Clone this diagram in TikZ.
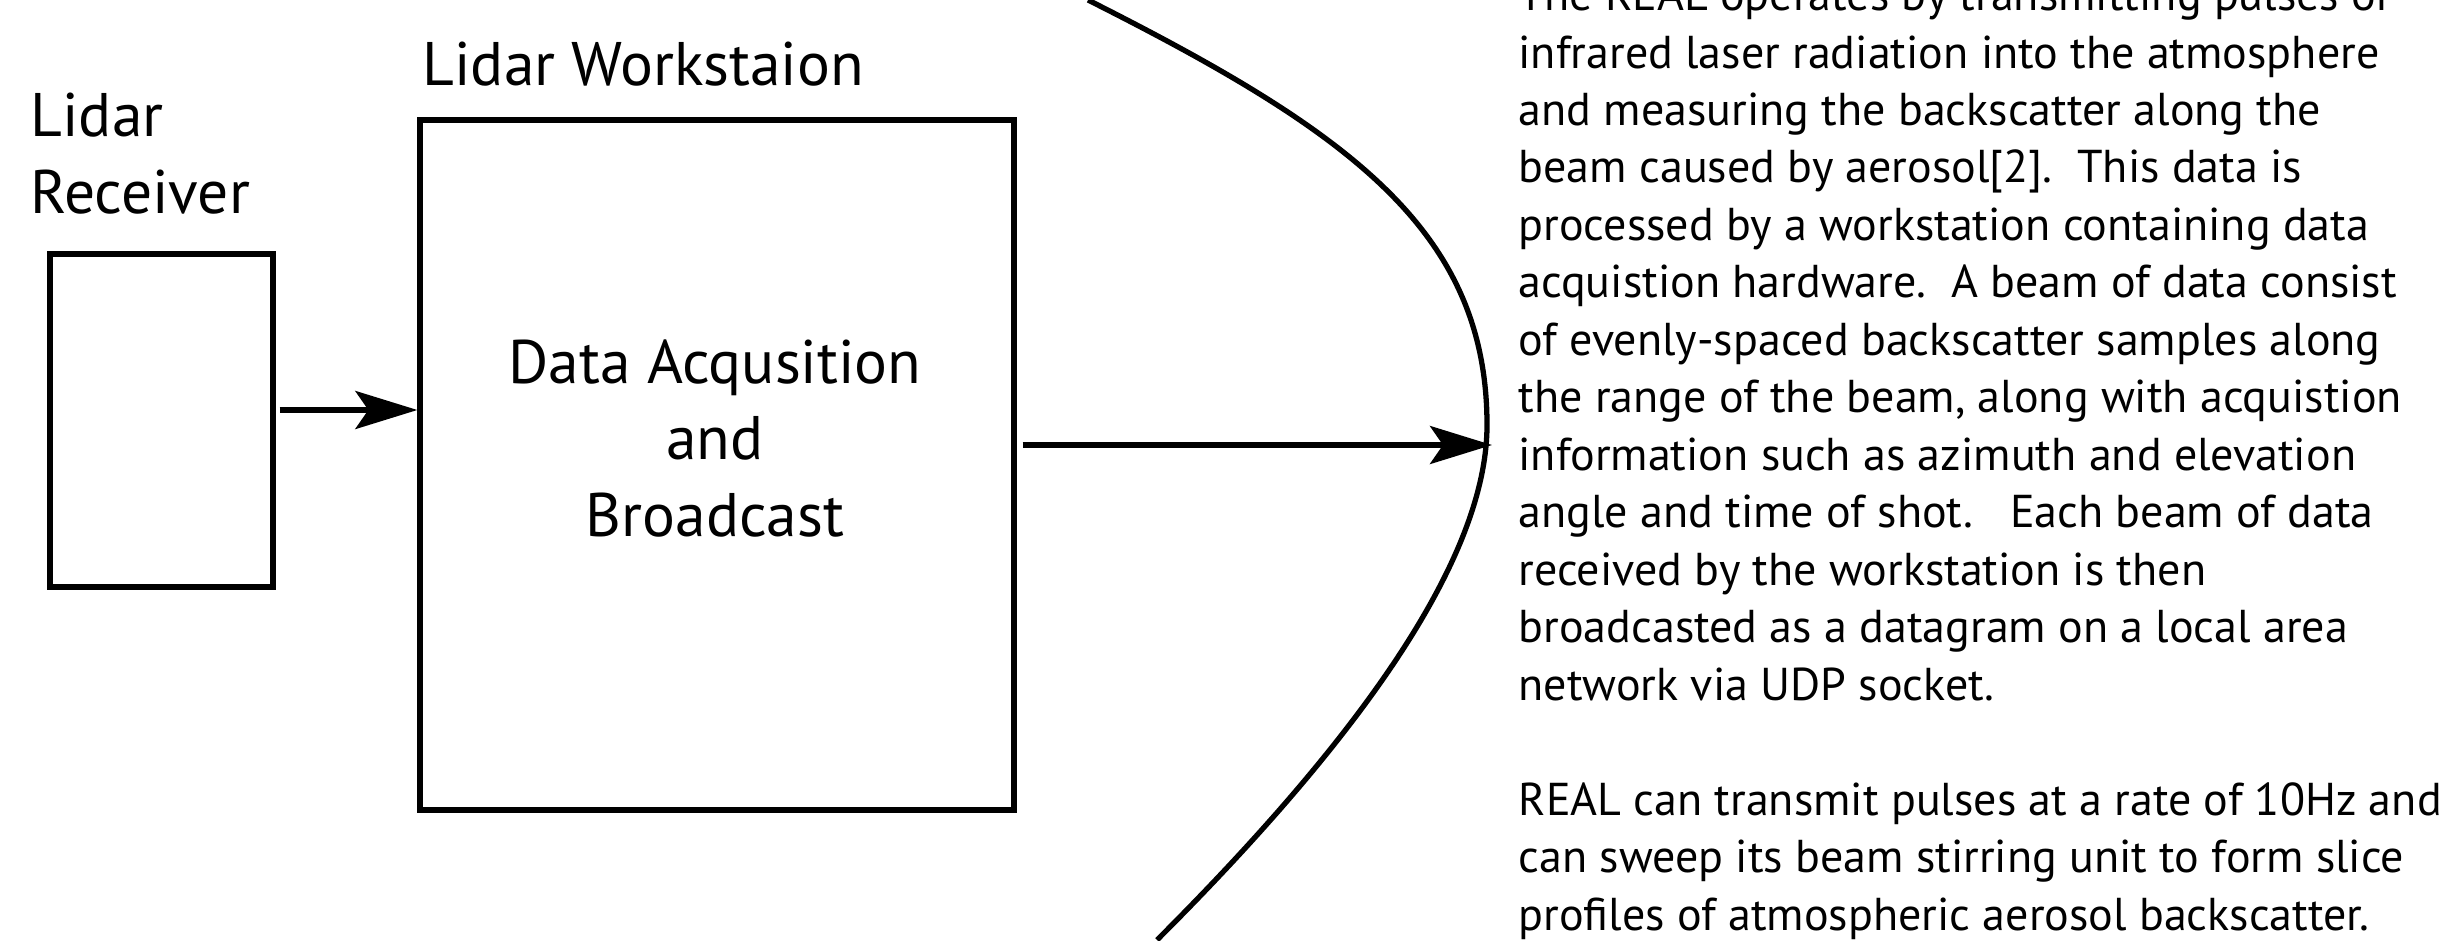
\documentclass[tikz,border=0pt]{standalone}
\usepackage{fontspec}
\setmainfont{PT Sans}
\usetikzlibrary{arrows.meta}

\begin{document}
\begin{tikzpicture}[line width=1.5pt,
  box/.style={draw,inner sep=0pt},
  big/.style={font=\fontsize{17.5}{21.7}\selectfont,inner sep=0pt},
  para/.style={font=\fontsize{13.1}{16.35}\selectfont,align=left,inner sep=0pt},
  arr/.style={-{Stealth[length=6.2mm,width=3.8mm,inset=1.3mm]}}]

  \useasboundingbox (0,0) rectangle (24.42,9.40);

  \node[box,minimum width=2.23cm,minimum height=3.33cm] (LiRe) at (1.615,5.195) {};
  \node[big,anchor=base west,align=left] (LiReLa) at (0.28,7.27) {Lidar\\Receiver};

  \node[box,minimum width=5.94cm,minimum height=6.90cm] (LiWo) at (7.17,4.75) {};
  \node[big,anchor=base west] (LiWoLa) at (4.20,8.55) {Lidar Workstaion};
  \node[big,anchor=base,align=center] (DaAc) at (7.15,4.04) {Data Acqusition\\and\\Broadcast};

  % %receiver to workstation
  \coordinate (a1) at (0,5.30);
  \draw[arr,shorten <=0.4mm] (LiRe.east |- a1) to (LiWo.west |- a1);

  % %broadcast to the beam
  \coordinate (a2) at (14.92,4.95);
  \draw[arr,shorten <=0.6mm] (LiWo.east |- a2) to (a2);

  \draw (10.88,9.40) .. controls (13.48,8.09) and (14.87,7.10) .. (14.87,5.15)
        .. controls (14.87,3.65) and (13.27,1.70) .. (11.57,0);

  \node[para,anchor=base west] (ReDe) at (15.16,0.10) {The REAL operates by transmitting pulses of\\
infrared laser radiation into the atmosphere\\
and measuring the backscatter along the\\
beam caused by aerosol[2].\ \ This data is\\
processed by a workstation containing data\\
acquistion hardware.\ \ A beam of data consist\\
of evenly-spaced backscatter samples along\\
the range of the beam, along with acquistion\\
information such as azimuth and elevation\\
angle and time of shot.\ \ \ Each beam of data\\
received by the workstation is then\\
broadcasted as a datagram on a local area\\
network via UDP socket.\\
\mbox{}\\
REAL can transmit pulses at a rate of 10Hz and\\
can sweep its beam stirring unit to form slice\\
profiles of atmospheric aerosol backscatter.};

\end{tikzpicture}
\end{document}
